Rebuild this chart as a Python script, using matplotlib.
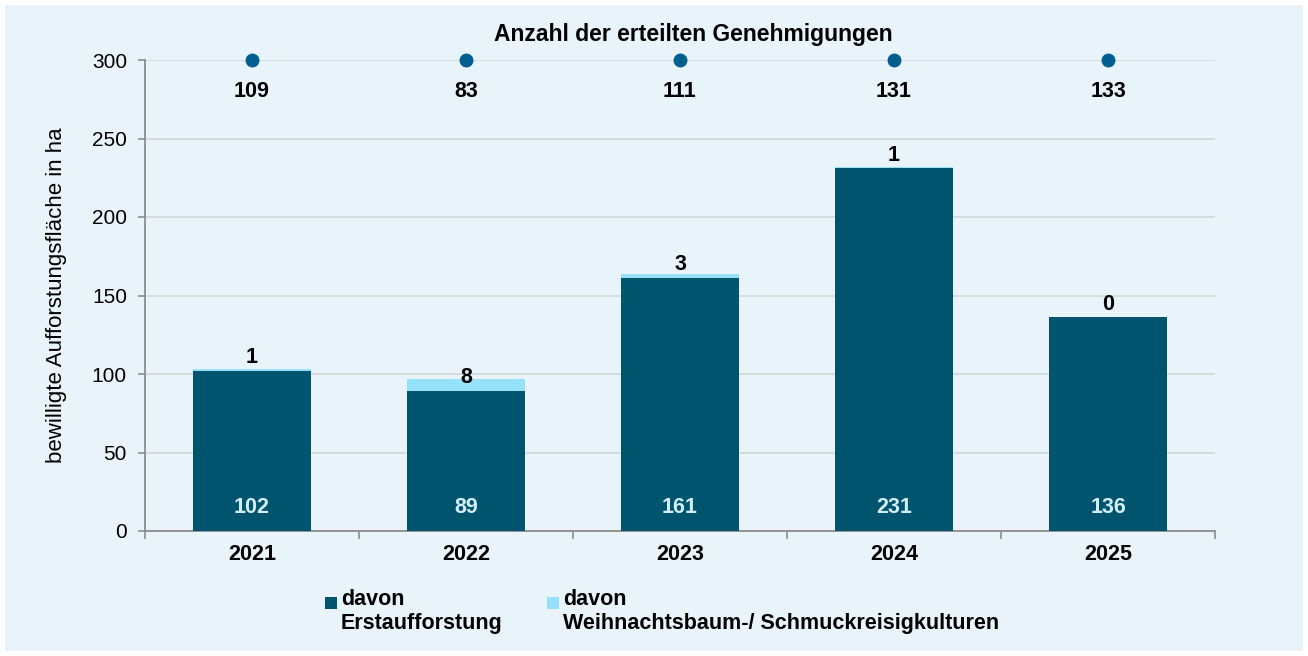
import matplotlib.pyplot as plt
from matplotlib.patches import Rectangle
import numpy as np

# data
years = ['2021', '2022', '2023', '2024', '2025']
erstaufforstung = [102, 89, 161, 231, 136]
weihnachtsbaum = [1, 8, 3, 1, 0]
genehmigungen = [109, 83, 111, 131, 133]
dot_level = [300, 300, 300, 300, 300]

dark = '#00546E'
light = '#95E1FA'
bg = '#E8F4FA'
dot_col = '#005F8F'

plt.rcParams['font.family'] = ['Liberation Sans', 'DejaVu Sans']
fs_b = 15.5

fig = plt.figure(figsize=(13.08, 6.56), dpi=100, facecolor='white')
W, H = 1308, 656
fig.patches.append(Rectangle((5 / W, 5 / H), 1 - 10 / W, 1 - 10 / H,
                             transform=fig.transFigure, facecolor=bg,
                             edgecolor='none', zorder=-10))

ax = fig.add_axes([145 / W, (H - 531) / H, (1215 - 145) / W, (531 - 60) / H])
ax.patch.set_alpha(0)

x = np.arange(len(years))
bw = 0.55
ax.bar(x, erstaufforstung, width=bw, color=dark, zorder=3)
ax.bar(x, weihnachtsbaum, width=bw, bottom=erstaufforstung, color=light, zorder=3)

for xi, v in zip(x, erstaufforstung):
    ax.text(xi, 15, str(v), ha='center', va='center', color='#D3EEF9',
            fontsize=fs_b, fontweight='bold', zorder=4)
for xi, base, v in zip(x, erstaufforstung, weihnachtsbaum):
    ax.annotate(str(v), (xi, base), xytext=(0, 2), textcoords='offset points',
                ha='center', va='bottom', fontsize=fs_b, fontweight='bold',
                color='black', zorder=4)

ax.plot(x, dot_level, 'o', color=dot_col, markersize=9, zorder=5, clip_on=False)
for xi, v in zip(x, genehmigungen):
    ax.text(xi, 280, str(v), ha='center', va='center', fontsize=fs_b,
            fontweight='bold', zorder=5)
ax.text(2.06, 316, 'Anzahl der erteilten Genehmigungen', ha='center',
        va='center', fontsize=16.5, fontweight='bold')

ax.set_xlim(-0.5, len(years) - 0.5)
ax.set_ylim(0, 300)
ax.set_yticks(np.arange(0, 301, 50))
ax.yaxis.grid(True, color='#D4D8DA', linewidth=1.3, zorder=0)
ax.set_axisbelow(True)

ax.set_xticks(x)
ax.set_xticklabels(years, fontsize=fs_b, fontweight='bold')
ax.set_xticks(np.arange(-0.5, len(years), 1), minor=True)
ax.tick_params(axis='x', which='major', length=0, pad=9)
ax.tick_params(axis='x', which='minor', length=6, width=1.2, color='#8C8C8C')
ax.tick_params(axis='y', length=5, width=1.2, color='#8C8C8C', labelsize=15, pad=8)

for s in ['top', 'right']:
    ax.spines[s].set_visible(False)
for s in ['left', 'bottom']:
    ax.spines[s].set_color('#8C8C8C')
    ax.spines[s].set_linewidth(1.3)

ax.set_ylabel('bewilligte Aufforstungsfläche in ha', fontsize=16, labelpad=18)

# legend drawn by hand: square aligned with first text line
legend_items = [('davon\nErstaufforstung', dark, 325),
                ('davon\nWeihnachtsbaum-/ Schmuckreisigkulturen', light, 547)]
for label, col, px in legend_items:
    fig.patches.append(Rectangle((px / W, (H - 609) / H), 12 / W, 12 / H,
                                 transform=fig.transFigure, facecolor=col,
                                 edgecolor='none'))
    fig.text((px + 16) / W, (H - 589) / H, label, ha='left', va='top',
             fontsize=fs_b, fontweight='bold', linespacing=1.2)

fig.savefig('out.png', dpi=100, facecolor='white')
